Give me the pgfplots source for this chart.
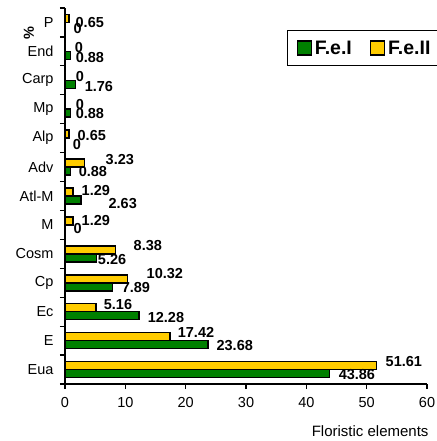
\documentclass[border=0pt]{standalone}
\usepackage{pgfplots}
\usepackage{pgfplotstable}
\pgfplotsset{compat=1.18}
\usepackage{fontspec}
\setmainfont{Liberation Sans}
\definecolor{gbar}{HTML}{008000}
\definecolor{ybar}{HTML}{FFCC00}
% F.e.I (green): value, category index (Eua=0 ... P=12), label offsets dx, dy (pt)
\pgfplotstableread{
x y dx dy
43.86 0 8.4 -1
23.68 1 8 -1
12.28 2 8 -2
7.89 3 8.4 -1
5.26 4 0.5 -2
0 5 8 0
2.63 6 27 -4
0.88 7 7.7 0
0 8 7 -2
0.88 9 4.7 0
1.76 10 8.4 -2
0.88 11 4.7 -2
0 12 8 -2
}\fei
% F.e.II (yellow)
\pgfplotstableread{
x y dx dy
51.61 0 8.6 4
17.42 1 7 4
5.16 2 7 3
10.32 3 18.7 5
8.38 4 17.4 4
1.29 5 8.2 0
1.29 6 8.2 1
3.23 7 20.5 4
0.65 8 8 -1
0 9 10 1
0 10 10 0
0 11 9 0
0.65 12 6 -4
}\feii
\begin{document}
\begin{tikzpicture}
\begin{axis}[
  name=ax,
  scale only axis,
  width=362pt, height=376pt,
  xmin=0, xmax=60, ymin=-0.5, ymax=12.5,
  axis x line*=bottom, axis y line*=left,
  axis line style={line width=1.2pt},
  xtick={0,10,...,60},
  ytick={0,...,12},
  yticklabels={Eua,E,Ec,Cp,Cosm,M,Atl-M,Adv,Alp,Mp,Carp,End,P},
  minor ytick={-0.5,0.5,...,12.5},
  tick align=outside,
  major tick length=5pt, minor tick length=5pt,
  every major y tick/.append style={draw=none},
  every tick/.append style={line width=1.2pt, black},
  tick label style={font=\fontsize{14.5}{17}\selectfont},
  x tick label style={yshift=-5pt},
  y tick label style={xshift=-3pt},
  /pgf/number format/assume math mode=true,
  xbar, bar width=8pt,
  point meta=x,
  nodes near coords={\pgfmathprintnumber[fixed,precision=2]{\pgfplotspointmeta}},
  every node near coord/.append style={font=\bfseries\fontsize{14.5}{17}\selectfont, anchor=west, inner sep=0pt},
  visualization depends on={\thisrow{dx} \as \dx},
  visualization depends on={\thisrow{dy} \as \dy},
  clip=false,
  legend columns=2,
  legend style={at={(axis description cs:1,1)}, anchor=north east, xshift=16pt, yshift=-22pt,
    draw=black, line width=1.2pt, font=\bfseries\fontsize{19.5}{21}\selectfont, inner xsep=9pt, inner ysep=7pt,
    nodes={inner xsep=3pt, inner ysep=3pt},
    /tikz/every even column/.append style={column sep=15pt}},
  legend image code/.code={\draw[#1, line width=1.3pt] (0pt,-7pt) rectangle (14pt,7pt);},
]
\addplot[fill=gbar, draw=black, line width=1.5pt, bar shift=-4pt,
  every node near coord/.append style={xshift=\dx pt, yshift=\dy pt}]
table[x=x, y=y] {\fei};
\addplot[fill=ybar, draw=black, line width=1.5pt, bar shift=4pt,
  every node near coord/.append style={xshift=\dx pt, yshift=\dy pt}]
table[x=x, y=y] {\feii};
\legend{F.e.I, F.e.II}
\end{axis}
\node[rotate=90, font=\bfseries\fontsize{14.5}{17}\selectfont] at ([shift={(-36pt,-25pt)}]ax.north west) {\%};
\node[anchor=east, font=\fontsize{15}{17}\selectfont] at ([shift={(5pt,-47pt)}]ax.south east) {Floristic elements};
\pgfresetboundingbox
\path[use as bounding box] ([shift={(-65pt,-57pt)}]ax.south west) rectangle ([shift={(9pt,8pt)}]ax.north east);
\end{tikzpicture}
\end{document}
